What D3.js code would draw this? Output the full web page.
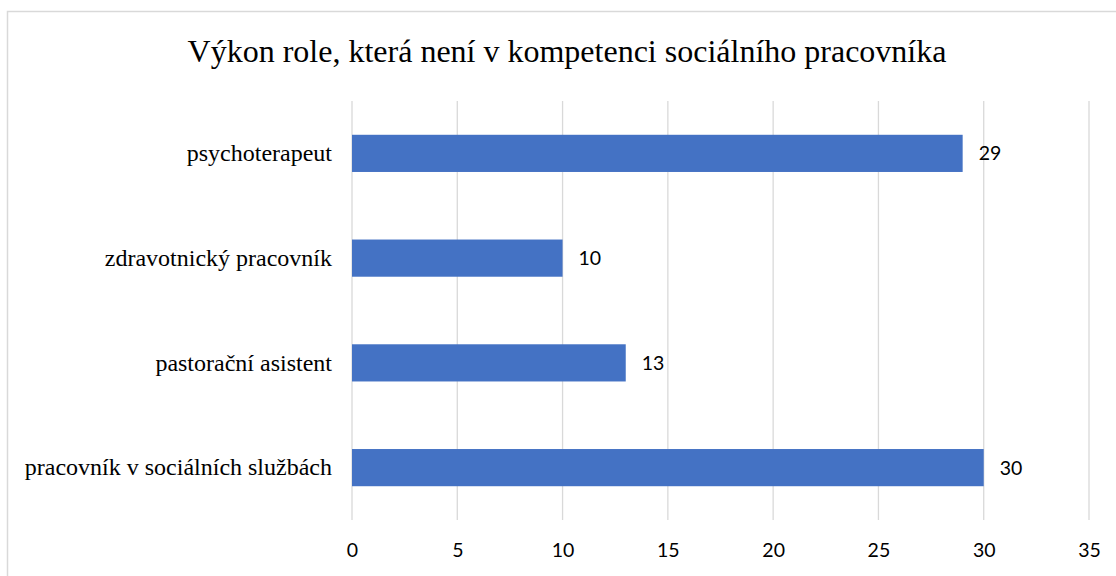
<!DOCTYPE html>
<html>
<head>
<meta charset="utf-8">
<script src="https://cdn.jsdelivr.net/npm/d3@7"></script>
<style>
  html, body { margin: 0; padding: 0; background: #fff; }
  svg { display: block; }
</style>
</head>
<body>
<div id="chart"></div>
<script>
const categories = [
  'psychoterapeut',
  'zdravotnický pracovník',
  'pastorační asistent',
  'pracovník v sociálních službách'
];
const values = [29, 10, 13, 30];
const xTicks = [0, 5, 10, 15, 20, 25, 30, 35];
const title = 'Výkon role, která není v kompetenci sociálního pracovníka';

const width = 1116, height = 576;
const margin = { top: 101, right: 27, bottom: 56, left: 352 };
const innerW = 737;
const innerH = height - margin.top - margin.bottom;

const svg = d3.select('#chart').append('svg')
  .attr('width', width)
  .attr('height', height);

// outer chart border
svg.append('rect')
  .attr('x', 7.5).attr('y', 11.5)
  .attr('width', width + 10).attr('height', height + 10)
  .attr('fill', 'none')
  .attr('stroke', '#d9d9d9')
  .attr('stroke-width', 1.5);

svg.append('text')
  .attr('x', 567)
  .attr('y', 62)
  .attr('text-anchor', 'middle')
  .attr('font-family', '"Liberation Serif", "Times New Roman", serif')
  .attr('font-size', 32)
  .attr('fill', '#000')
  .text(title);

const g = svg.append('g')
  .attr('transform', `translate(${margin.left},${margin.top})`);

const x = d3.scaleLinear().domain([0, 35]).range([0, innerW]);
const y = d3.scaleBand().domain(categories).range([0, innerH]).paddingInner(0.645).paddingOuter(0.3225);

// gridlines
g.append('g').attr('class', 'grid')
  .selectAll('line')
  .data(xTicks)
  .join('line')
  .attr('x1', d => x(d)).attr('x2', d => x(d))
  .attr('y1', 0).attr('y2', innerH)
  .attr('stroke', '#d9d9d9')
  .attr('stroke-width', 1.3);

// x axis labels
const xAxis = g.append('g')
  .attr('transform', `translate(0,${innerH})`)
  .call(d3.axisBottom(x).tickValues(xTicks).tickSize(0).tickPadding(23));
xAxis.select('.domain').remove();
xAxis.selectAll('text')
  .attr('font-family', 'Lato, "Open Sans", sans-serif')
  .attr('font-size', 19.5)
  .attr('fill', '#000');

// y axis labels
const yAxis = g.append('g')
  .call(d3.axisLeft(y).tickSize(0).tickPadding(20));
yAxis.select('.domain').remove();
yAxis.selectAll('text')
  .attr('font-family', '"Liberation Serif", "Times New Roman", serif')
  .attr('font-size', 24)
  .attr('fill', '#000');

const rows = categories.map((c, i) => ({ cat: c, val: values[i] }));

g.append('g').selectAll('rect')
  .data(rows)
  .join('rect')
  .attr('x', x(0))
  .attr('y', d => y(d.cat))
  .attr('width', d => x(d.val) - x(0))
  .attr('height', y.bandwidth())
  .attr('fill', '#4472c4');

g.append('g').selectAll('text')
  .data(rows)
  .join('text')
  .attr('x', d => x(d.val) + 16)
  .attr('y', d => y(d.cat) + y.bandwidth() / 2)
  .attr('dy', '0.36em')
  .attr('font-family', 'Lato, "Open Sans", sans-serif')
  .attr('font-size', 19.5)
  .attr('fill', '#000')
  .text(d => d.val);
</script>
</body>
</html>
